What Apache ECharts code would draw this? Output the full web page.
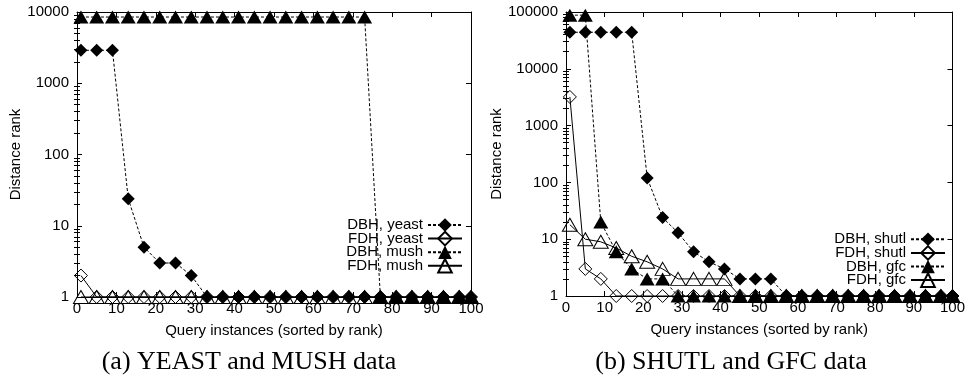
<!DOCTYPE html>
<html>
<head>
<meta charset="utf-8">
<script src="https://cdn.jsdelivr.net/npm/echarts@6/dist/echarts.min.js"></script>
<style>
  html, body { margin: 0; padding: 0; background: #fff; }
  #chart { width: 968px; height: 381px; }
</style>
</head>
<body>
<div id="chart"></div>
<script>
// Sampled query instances (x positions of the plotted points)
const queryX = [1, 5, 9, 13, 17, 21, 25, 29, 33, 37, 41, 45, 49, 53, 57, 61, 65, 69, 73, 77, 81, 85, 89, 93, 97, 100];

// (a) YEAST and MUSH
const yeastDBH = [2900, 2900, 2900, 24, 5, 3, 3, 2, 1, 1, 1, 1, 1, 1, 1, 1, 1, 1, 1, 1, 1, 1, 1, 1, 1, 1];
const yeastFDH = [2, 1, 1, 1, 1, 1, 1, 1, 1, 1, 1, 1, 1, 1, 1, 1, 1, 1, 1, 1, 1, 1, 1, 1, 1, 1];
const mushDBH  = [8500, 8500, 8500, 8500, 8500, 8500, 8500, 8500, 8500, 8500, 8500, 8500, 8500, 8500, 8500, 8500, 8500, 8500, 8500, 1, 1, 1, 1, 1, 1, 1];
const mushFDH  = [1, 1, 1, 1, 1, 1, 1, 1, 1, 1, 1, 1, 1, 1, 1, 1, 1, 1, 1, 1, 1, 1, 1, 1, 1, 1];

// (b) SHUTL and GFC
const shutlDBH = [44000, 44000, 44000, 44000, 44000, 120, 24, 13, 6, 4, 3, 2, 2, 2, 1, 1, 1, 1, 1, 1, 1, 1, 1, 1, 1, 1];
const shutlFDH = [3200, 3, 2, 1, 1, 1, 1, 1, 1, 1, 1, 1, 1, 1, 1, 1, 1, 1, 1, 1, 1, 1, 1, 1, 1, 1];
const gfcDBH   = [88000, 88000, 20, 6, 3, 2, 2, 1, 1, 1, 1, 1, 1, 1, 1, 1, 1, 1, 1, 1, 1, 1, 1, 1, 1, 1];
const gfcFDH   = [18, 10, 9, 7, 5, 4, 3, 2, 2, 2, 2, 1, 1, 1, 1, 1, 1, 1, 1, 1, 1, 1, 1, 1, 1, 1];

// Axis ticks
const xTicks = [0, 10, 20, 30, 40, 50, 60, 70, 80, 90, 100];
const yTicksA = [1, 10, 100, 1000, 10000];
const yTicksB = [1, 10, 100, 1000, 10000, 100000];

const SANS = "'Liberation Sans', Arial, Helvetica, sans-serif";
const SERIF = "'Liberation Serif', 'Times New Roman', serif";
const FS = 15;

// intermediate 2..9 ticks inside each decade
function minorTicks(majors) {
  const out = [];
  for (let i = 0; i < majors.length - 1; i++) {
    for (let m = 2; m <= 9; m++) out.push(majors[i] * m);
  }
  return out;
}

const chart = echarts.init(document.getElementById('chart'), null, { renderer: 'canvas' });

const grids = [
  { left: 77, right: 497, top: 12, bottom: 84 },
  { left: 566, right: 15, top: 12, bottom: 85 }
];

function xAxesFor(gridIndex) {
  const base = {
    type: 'value', gridIndex, min: 0, max: 100, interval: 10,
    splitLine: { show: false },
    axisLine: { show: true, onZero: false, lineStyle: { color: '#000', width: 1 } },
    axisTick: { show: true, inside: true, length: 5, customValues: xTicks, lineStyle: { color: '#000' } }
  };
  return [
    Object.assign({}, base, {
      position: 'bottom',
      axisLabel: { show: true, color: '#000', fontFamily: SANS, fontSize: FS, margin: 4, customValues: xTicks },
      name: 'Query instances (sorted by rank)',
      nameLocation: 'middle', nameGap: 26,
      nameTextStyle: { color: '#000', fontFamily: SANS, fontSize: FS }
    }),
    Object.assign({}, base, { position: 'top', axisLabel: { show: false } })
  ];
}

function yAxesFor(gridIndex, majors, nameGap) {
  const max = majors[majors.length - 1];
  const base = {
    type: 'log', logBase: 10, gridIndex, min: 1, max,
    splitLine: { show: false }
  };
  const minors = minorTicks(majors);
  return [
    Object.assign({}, base, {
      position: 'left',
      axisLine: { show: true, onZero: false, lineStyle: { color: '#000', width: 1 } },
      axisTick: { show: true, inside: true, length: 5, customValues: majors, lineStyle: { color: '#000' } },
      axisLabel: {
        show: true, color: '#000', fontFamily: SANS, fontSize: FS, margin: 8,
        customValues: majors, formatter: v => String(Math.round(v))
      },
      name: 'Distance rank', nameLocation: 'middle', nameGap,
      nameTextStyle: { color: '#000', fontFamily: SANS, fontSize: FS }
    }),
    Object.assign({}, base, {
      position: 'left',
      axisLine: { show: false },
      axisTick: { show: true, inside: true, length: 3, customValues: minors, lineStyle: { color: '#000' } },
      axisLabel: { show: false }
    }),
    Object.assign({}, base, {
      position: 'right',
      axisLine: { show: true, onZero: false, lineStyle: { color: '#000', width: 1 } },
      axisTick: { show: true, inside: true, length: 5, customValues: majors, lineStyle: { color: '#000' } },
      axisLabel: { show: false }
    }),
    Object.assign({}, base, {
      position: 'right',
      axisLine: { show: false },
      axisTick: { show: true, inside: true, length: 3, customValues: minors, lineStyle: { color: '#000' } },
      axisLabel: { show: false }
    })
  ];
}

const DASH = [3, 2];

function makeSeries(name, values, gridIndex, symbol, filled, dashed) {
  const isTri = symbol === 'triangle';
  return {
    name,
    type: 'line',
    xAxisIndex: gridIndex * 2,
    yAxisIndex: gridIndex * 4,
    data: queryX.map((x, i) => [x, values[i]]),
    symbol,
    symbolSize: isTri ? [15, 13] : [13, 13],
    showSymbol: true,
    showAllSymbol: true,
    clip: false,
    animation: false,
    silent: true,
    lineStyle: { color: '#000', width: 1, type: dashed ? DASH : 'solid' },
    itemStyle: filled
      ? { color: '#000', borderColor: '#000', borderWidth: 0 }
      : { color: 'rgba(255,255,255,0)', borderColor: '#000', borderWidth: 1 },
    emphasis: { disabled: true }
  };
}

const series = [
  makeSeries('DBH, yeast', yeastDBH, 0, 'diamond', true, true),
  makeSeries('FDH, yeast', yeastFDH, 0, 'diamond', false, false),
  makeSeries('DBH, mush', mushDBH, 0, 'triangle', true, true),
  makeSeries('FDH, mush', mushFDH, 0, 'triangle', false, false),
  makeSeries('DBH, shutl', shutlDBH, 1, 'diamond', true, true),
  makeSeries('FDH, shutl', shutlFDH, 1, 'diamond', false, false),
  makeSeries('DBH, gfc', gfcDBH, 1, 'triangle', true, true),
  makeSeries('FDH, gfc', gfcFDH, 1, 'triangle', false, false)
];

function legendFor(names, right, top) {
  return {
    data: names,
    orient: 'vertical',
    right, top,
    align: 'right',
    padding: 0,
    itemWidth: 34,
    itemHeight: 17,
    itemGap: -1.7,
    selectedMode: false,
    textStyle: { color: '#000', fontFamily: SANS, fontSize: FS, lineHeight: 15 }
  };
}

chart.setOption({
  backgroundColor: '#fff',
  animation: false,
  grid: grids,
  xAxis: [...xAxesFor(0), ...xAxesFor(1)],
  yAxis: [...yAxesFor(0, yTicksA, 51), ...yAxesFor(1, yTicksB, 59)],
  legend: [
    legendFor(['DBH, yeast', 'FDH, yeast', 'DBH, mush', 'FDH, mush'], 505, 217.5),
    legendFor(['DBH, shutl', 'FDH, shutl', 'DBH, gfc', 'FDH, gfc'], 22, 231.8)
  ],
  series,
  graphic: [
    { type: 'text', x: 249, y: 362, style: { text: '(a) YEAST and MUSH data', fill: '#000', font: '26px ' + SERIF, textAlign: 'center', textVerticalAlign: 'middle' } },
    { type: 'text', x: 731, y: 362, style: { text: '(b) SHUTL and GFC data', fill: '#000', font: '26px ' + SERIF, textAlign: 'center', textVerticalAlign: 'middle' } }
  ]
});
</script>
</body>
</html>
